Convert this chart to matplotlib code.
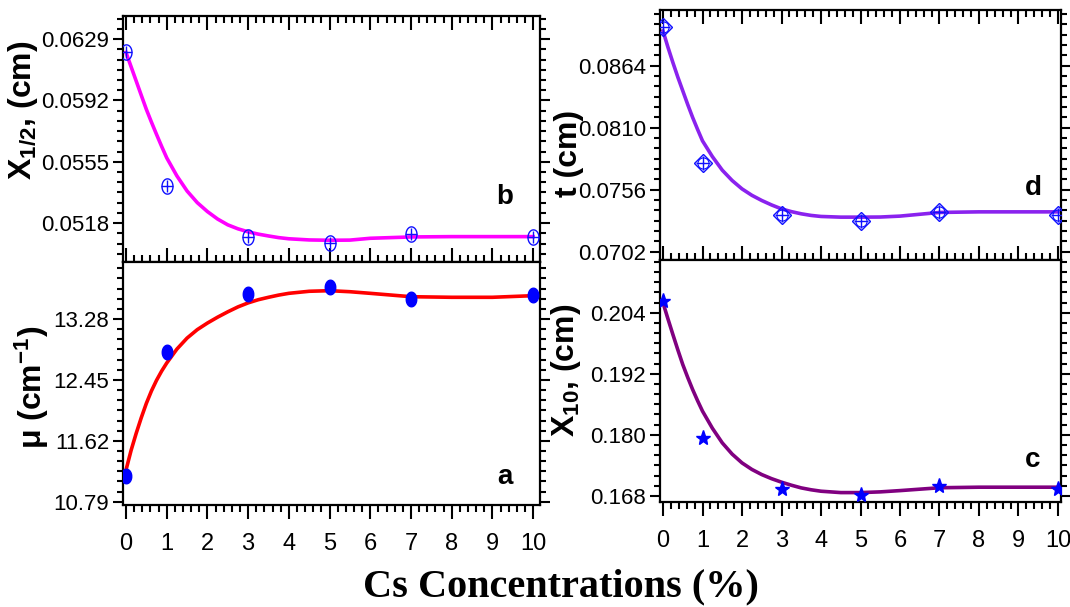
import numpy as np
import matplotlib
matplotlib.use('Agg')
import matplotlib.pyplot as plt
import matplotlib.font_manager as fm
from matplotlib.ticker import FixedLocator, AutoMinorLocator, MultipleLocator, FormatStrFormatter

# 字体：刻度用窄体（若有），标签用粗体无衬线
_names = {f.name for f in fm.fontManager.ttflist}
TICK_FONT = 'Liberation Sans Narrow' if 'Liberation Sans Narrow' in _names else 'Liberation Sans'
plt.rcParams['font.family'] = ['Liberation Sans', 'DejaVu Sans']
plt.rcParams['mathtext.fontset'] = 'custom'
plt.rcParams['mathtext.rm'] = 'Liberation Sans:bold'
plt.rcParams['mathtext.bf'] = 'Liberation Sans:bold'
plt.rcParams['mathtext.it'] = 'Liberation Sans:bold'

# ---------------- 数据 ----------------
cs_conc = [0, 1, 3, 5, 7, 10]

mu_pts = [11.14, 12.834, 13.617, 13.713, 13.553, 13.607]
x_half_pts = [0.06213, 0.05402, 0.05095, 0.05059, 0.05117, 0.05097]
t_pts = [0.08973, 0.07793, 0.07340, 0.07288, 0.07366, 0.07343]
x_ten_pts = [0.20636, 0.17941, 0.16938, 0.16820, 0.16991, 0.16945]

# 拟合曲线
fit_x = [0, 0.125, 0.25, 0.375, 0.5, 0.625, 0.75, 0.875, 1, 1.25, 1.5, 1.75, 2,
         2.25, 2.5, 2.75, 3, 3.25, 3.5, 3.75, 4, 4.5, 5, 5.5, 6, 7, 8, 9, 10]
mu_fit = [11.222, 11.490, 11.722, 11.935, 12.131, 12.300, 12.445, 12.570, 12.680,
          12.870, 13.020, 13.135, 13.225, 13.305, 13.378, 13.445, 13.500, 13.543,
          13.576, 13.606, 13.630, 13.658, 13.666, 13.652, 13.630, 13.584, 13.576,
          13.576, 13.598]
x_half_fit = [0.06209, 0.06123, 0.06037, 0.05951, 0.05866, 0.05789, 0.05715, 0.05643,
              0.05574, 0.05465, 0.05374, 0.05304, 0.05250, 0.05205, 0.05170, 0.05146,
              0.05128, 0.05114, 0.05103, 0.05093, 0.05086, 0.05079, 0.05077, 0.05078,
              0.05089, 0.05097, 0.05099, 0.05099, 0.05099]
t_fit = [0.08942, 0.08800, 0.08667, 0.08540, 0.08421, 0.08302, 0.08189, 0.08085,
         0.07985, 0.07848, 0.07730, 0.07640, 0.07567, 0.07511, 0.07466, 0.07427,
         0.07393, 0.07369, 0.07350, 0.07336, 0.07327, 0.07321, 0.07321, 0.07322,
         0.07330, 0.07362, 0.07367, 0.07367, 0.07367]
x_ten_fit = [0.20596, 0.20280, 0.19973, 0.19672, 0.19383, 0.19130, 0.18891, 0.18672,
             0.18466, 0.18130, 0.17843, 0.17622, 0.17449, 0.17320, 0.17219, 0.17138,
             0.17070, 0.17010, 0.16957, 0.16920, 0.16892, 0.16865, 0.16865, 0.16879,
             0.16904, 0.16960, 0.16971, 0.16971, 0.16971]

mu_ticks = [10.79, 11.62, 12.45, 13.28]
x_half_ticks = [0.0518, 0.0555, 0.0592, 0.0629]
t_ticks = [0.0702, 0.0756, 0.0810, 0.0864]
x_ten_ticks = [0.168, 0.180, 0.192, 0.204]

W, H = 1070, 607
fig = plt.figure(figsize=(W / 100, H / 100), dpi=100)


def px_rect(x0, y0, x1, y1):
    """像素坐标 -> figure 坐标"""
    return [x0 / W, 1 - y1 / H, (x1 - x0) / W, (y1 - y0) / H]


ax_b = fig.add_axes(px_rect(123, 16, 540, 262))
ax_a = fig.add_axes(px_rect(123, 262, 540, 505))
ax_d = fig.add_axes(px_rect(660, 10, 1061, 260))
ax_c = fig.add_axes(px_rect(660, 260, 1061, 502))

# 椭圆形标记（竖向拉长）
ang = np.linspace(0, 2 * np.pi, 40)
ellipse = list(zip(0.72 * np.cos(ang), np.sin(ang)))


def style_axis(ax, top_panel, xlim, ylim, yticks, fmt):
    ax.set_xlim(*xlim)
    ax.set_ylim(*ylim)
    for s in ax.spines.values():
        s.set_linewidth(1.6)
    ax.xaxis.set_major_locator(MultipleLocator(1))
    ax.xaxis.set_minor_locator(AutoMinorLocator(5))
    ax.yaxis.set_major_locator(FixedLocator(yticks))
    ax.yaxis.set_minor_locator(AutoMinorLocator(6))
    ax.yaxis.set_major_formatter(FormatStrFormatter(fmt))
    ax.tick_params(axis='y', which='both', left=True, right=True, direction='out',
                   width=1.5, labelsize=16, pad=3)
    ax.tick_params(axis='y', which='major', length=7)
    ax.tick_params(axis='y', which='minor', length=4.5)
    if top_panel:
        ax.tick_params(axis='x', which='both', top=True, bottom=True, direction='in',
                       labelbottom=False, width=1.5)
    else:
        ax.tick_params(axis='x', which='both', top=False, bottom=True, direction='out',
                       width=1.5, labelsize=17, pad=10)
    ax.tick_params(axis='x', which='major', length=10)
    ax.tick_params(axis='x', which='minor', length=5)
    for lab in ax.get_xticklabels() + ax.get_yticklabels():
        lab.set_family(TICK_FONT)


# b: X1/2
ax_b.plot(fit_x, x_half_fit, color='#FF00FF', lw=2.6, zorder=2)
ax_b.plot(cs_conc, x_half_pts, ls='none', marker=ellipse, ms=11, mfc='none',
          mec='#1010FF', mew=1.0, zorder=3)
ax_b.plot(cs_conc, x_half_pts, ls='none', marker='+', ms=9, mec='#1010FF', mew=1.0, zorder=3)
style_axis(ax_b, True, (-0.074, 10.17), (0.04946, 0.06429), x_half_ticks, '%.4f')

# a: mu
ax_a.plot(fit_x, mu_fit, color='#FF0000', lw=2.6, zorder=2)
ax_a.plot(cs_conc, mu_pts, ls='none', marker=ellipse, ms=10.5, mfc='#0000FF',
          mec='#0000FF', zorder=3)
style_axis(ax_a, False, (-0.074, 10.17), (10.745, 14.057), mu_ticks, '%.2f')

# d: t
ax_d.plot(fit_x, t_fit, color='#8A22EE', lw=2.6, zorder=2)
ax_d.plot(cs_conc, t_pts, ls='none', marker='D', ms=9, mfc='none',
          mec='#1010FF', mew=1.0, zorder=3)
ax_d.plot(cs_conc, t_pts, ls='none', marker='o', ms=8, mfc='none',
          mec='#1010FF', mew=0.8, zorder=3)
ax_d.plot(cs_conc, t_pts, ls='none', marker='+', ms=10, mec='#1010FF', mew=1.0, zorder=3)
style_axis(ax_d, True, (-0.076, 10.076), (0.06948, 0.09124), t_ticks, '%.4f')

# c: X10
ax_c.plot(fit_x, x_ten_fit, color='#800080', lw=2.6, zorder=2)
ax_c.plot(cs_conc, x_ten_pts, ls='none', marker='*', ms=11, mfc='#0000FF',
          mec='#0000FF', zorder=3)
style_axis(ax_c, False, (-0.076, 10.076), (0.1668, 0.21437), x_ten_ticks, '%.3f')

# 面板字母
for x, y, s in [(505, 197, 'b'), (505, 477, 'a'), (1033, 188, 'd'), (1033, 460, 'c')]:
    fig.text(x / W, 1 - y / H, s, fontsize=20, fontweight='bold', ha='center', va='center')

# y 轴标签
ylabels = [
    (23, 110, r'X$_{\mathbf{1/2}}$, (cm)'),
    (32, 387, r'$\mathbf{\mu}$ (cm$^{\mathbf{-1}}$)'),
    (569, 153, 't (cm)'),
    (566, 370, r'X$_{\mathbf{10}}$, (cm)'),
]
for x, y, s in ylabels:
    fig.text(x / W, 1 - y / H, s, fontsize=23, fontweight='bold', rotation=90,
             ha='center', va='center')

# x 轴总标题
fig.text(561 / W, 1 - 596 / H, 'Cs Concentrations (%)', family='Liberation Serif',
         fontsize=29, fontweight='bold', ha='center', va='baseline')

fig.savefig('out.png', dpi=100)
